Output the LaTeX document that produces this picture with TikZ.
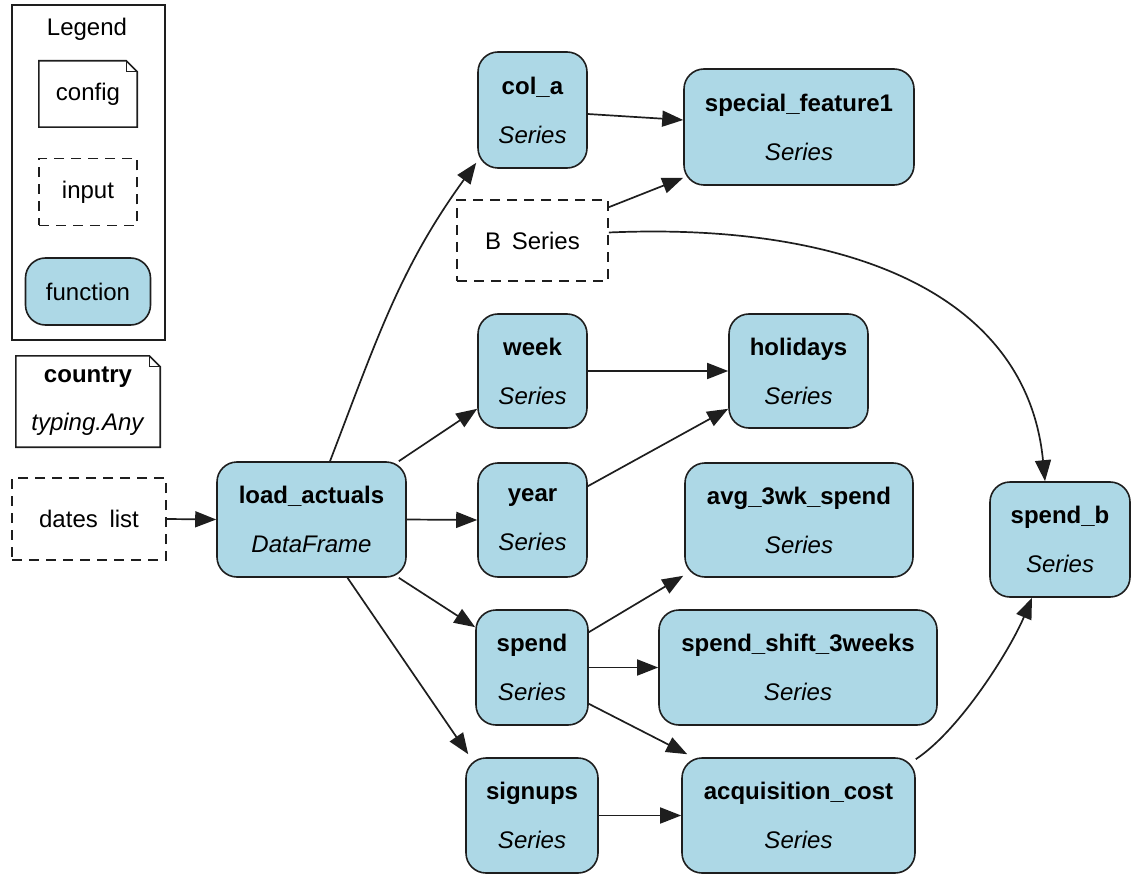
\documentclass[tikz,border=0pt]{standalone}
\usepackage{fontspec}
\setmainfont{Liberation Sans}
\usetikzlibrary{arrows.meta}
\definecolor{fnblue}{RGB}{173,216,230}
\definecolor{edgec}{RGB}{30,30,30}
\begin{document}
\begin{tikzpicture}[x=1pt,y=-1pt,
  bd/.style={draw=edgec, line width=1.6pt},
  base/.style={font=\fontsize{24}{29}\selectfont, align=center, inner sep=0pt},
  fn/.style={base, bd, fill=fnblue, rounded corners=20pt},
  inp/.style={base, bd, dash pattern=on 10pt off 7pt},
  cfg/.style={base},
  fold/.style={draw=edgec, line width=1.2pt},
  arr/.style={draw=edgec, line width=1.7pt, -{Triangle[length=21pt,width=16pt]}},
]
\useasboundingbox (0,0) rectangle (1134,874);

% legend
\node[bd, minimum width=153pt, minimum height=335pt, inner sep=0pt] (legend) at (88.5,172.5) {};
\node[base] (legendtitle) at (87,29) {Legend};
\node[cfg, minimum width=98pt, minimum height=66pt] (lcfg) at (88,94) {config};
\node[inp, minimum width=98pt, minimum height=67pt] (linp) at (88,192) {input};
\node[fn, minimum width=125pt, minimum height=67pt] (lfn) at (88,291.5) {function};

% config node
\node[cfg, minimum width=144pt, minimum height=91pt] (country) at (88,401.5) {\textbf{country}\\[19pt]\textit{typing.Any}};

% note outlines
\foreach \n in {lcfg,country}{
  \draw[bd, line join=miter] (\n.south west) -- (\n.north west) -- ([xshift=-11pt]\n.north east) -- ([yshift=-11pt]\n.north east) -- (\n.south east) -- cycle;
  \draw[fold] ([xshift=-11pt]\n.north east) -- ([xshift=-11pt,yshift=-11pt]\n.north east) -- ([yshift=-11pt]\n.north east);
}

% inputs
\node[inp, minimum width=154pt, minimum height=82pt] (dates) at (89,519) {dates\kern5pt\ list};
\node[inp, minimum width=151pt, minimum height=81pt] (bser) at (532.5,240.5) {B\kern4pt\ Series};

% functions
\node[fn, minimum width=189pt, minimum height=115pt] (la) at (311.5,519.5) {\textbf{load\_actuals}\\[20pt]\textit{DataFrame}};
\node[fn, minimum width=109pt, minimum height=116pt] (cola) at (532.5,110) {\textbf{col\_a}\\[20pt]\textit{Series}};
\node[fn, minimum width=230pt, minimum height=116pt] (sf1) at (799,127) {\textbf{special\_feature1}\\[20pt]\textit{Series}};
\node[fn, minimum width=109pt, minimum height=114pt] (week) at (532.5,371) {\textbf{week}\\[20pt]\textit{Series}};
\node[fn, minimum width=139pt, minimum height=114pt] (hol) at (798.5,371) {\textbf{holidays}\\[20pt]\textit{Series}};
\node[fn, minimum width=109pt, minimum height=114pt] (year) at (532.5,520) {\textbf{year}\\[20pt]\textit{Series}};
\node[fn, minimum width=228pt, minimum height=114pt] (avg) at (799,520) {\textbf{avg\_3wk\_spend}\\[20pt]\textit{Series}};
\node[fn, minimum width=140pt, minimum height=115pt] (spendb) at (1060,539.5) {\textbf{spend\_b}\\[20pt]\textit{Series}};
\node[fn, minimum width=112pt, minimum height=115pt] (spend) at (532,667.5) {\textbf{spend}\\[20pt]\textit{Series}};
\node[fn, minimum width=278pt, minimum height=115pt] (ss3) at (798,667.5) {\textbf{spend\_shift\_3weeks}\\[20pt]\textit{Series}};
\node[fn, minimum width=132pt, minimum height=115pt] (signups) at (532,815.5) {\textbf{signups}\\[20pt]\textit{Series}};
\node[fn, minimum width=233pt, minimum height=115pt] (acq) at (798.5,815.5) {\textbf{acquisition\_cost}\\[20pt]\textit{Series}};

% edges
\draw[arr] (dates.east) -- (la.west);
\draw[arr] ([xshift=18.5pt]la.north) to[out=69,in=-126] ([xshift=-1pt,yshift=6pt]cola.south west);
\draw[arr] ([xshift=-8pt]la.north east) -- ([yshift=20pt]week.south west);
\draw[arr] (la.east) -- (year.west);
\draw[arr] ([xshift=-8pt]la.south east) -- ([yshift=-18pt]spend.north west);
\draw[arr] ([xshift=36pt]la.south) -- ([xshift=3pt,yshift=3pt]signups.north west);
\draw[arr] ([yshift=-4pt]cola.east) -- ([yshift=7pt]sf1.west);
\draw[arr] ([yshift=-8pt]bser.north east) -- ([yshift=8pt]sf1.south west);
\draw[arr] ([yshift=8pt]bser.east) .. controls (850,222) and (1027,295) .. ([xshift=-15pt]spendb.north);
\draw[arr] (week.east) -- (hol.west);
\draw[arr] ([yshift=-24pt]year.north east) -- ([yshift=20pt]hol.south west);
\draw[arr] ([yshift=-23pt]spend.north east) -- ([xshift=-1pt,yshift=2pt]avg.south west);
\draw[arr] (spend.east) -- (ss3.west);
\draw[arr] ([yshift=22pt]spend.south east) -- ([xshift=6pt,yshift=3pt]acq.north west);
\draw[arr] (signups.east) -- (acq.west);
\draw[arr] ([yshift=-2pt]acq.north east) .. controls (960,730) and (1010,650) .. ([xshift=-28pt]spendb.south);
\end{tikzpicture}
\end{document}
